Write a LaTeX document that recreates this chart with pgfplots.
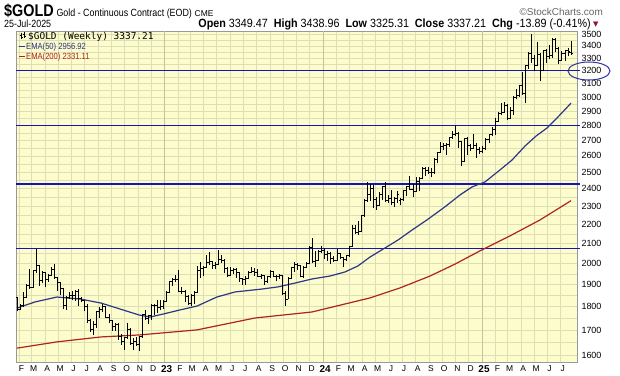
\documentclass[border=0pt]{standalone}
\usepackage{fontspec}
\setmainfont{Liberation Sans}
\newfontfamily\narrowfont[FakeStretch=0.85]{Liberation Sans}
\newfontfamily\infofont[FakeStretch=0.9]{Liberation Sans}
\newfontfamily\monofont{DejaVu Sans Mono}
\newfontfamily\symfont{DejaVu Sans}
\usepackage{pgfplots}
\usepackage{pgfplotstable}
\pgfplotsset{compat=1.18}

\definecolor{bg}{RGB}{252,252,204}
\definecolor{gridc}{RGB}{222,222,182}
\definecolor{yeargrid}{RGB}{195,195,160}
\definecolor{lvl}{RGB}{20,20,185}
\definecolor{emaA}{RGB}{45,55,135}
\definecolor{emaB}{RGB}{175,35,35}
\definecolor{ell}{RGB}{50,50,170}
\definecolor{tri}{RGB}{140,20,50}

\pgfdeclareplotmark{otick}{\pgfpathmoveto{\pgfqpoint{-1.7bp}{0bp}}\pgfpathlineto{\pgfqpoint{0bp}{0bp}}\pgfusepathqstroke}
\pgfdeclareplotmark{ctick}{\pgfpathmoveto{\pgfqpoint{0bp}{0bp}}\pgfpathlineto{\pgfqpoint{1.7bp}{0bp}}\pgfusepathqstroke}

\pgfplotstableread{
w o h l c
-6 1842 1845 1780 1786
-5 1786 1812 1784 1807
-4 1807 1865 1800 1842
-3 1842 1902 1838 1897
-2 1897 1972 1878 1888
-1 1888 1968 1884 1965
0 1966 2070 1955 1988
1 1988 1992 1893 1921
2 1921 1962 1908 1956
3 1956 1958 1889 1923
4 1923 1948 1914 1944
5 1944 1985 1940 1973
6 1973 1998 1928 1933
7 1933 1935 1872 1910
8 1910 1912 1850 1880
9 1880 1885 1788 1805
10 1805 1848 1786 1840
11 1840 1866 1835 1852
12 1852 1872 1828 1848
13 1848 1876 1826 1868
14 1868 1878 1805 1838
15 1838 1845 1820 1826
16 1826 1830 1780 1800
17 1800 1810 1730 1740
18 1740 1748 1692 1702
19 1702 1738 1678 1725
20 1725 1780 1710 1778
21 1778 1800 1752 1788
22 1788 1810 1778 1800
23 1800 1802 1750 1755
24 1755 1768 1730 1740
25 1740 1742 1696 1715
26 1715 1730 1698 1722
27 1722 1730 1660 1675
28 1675 1685 1640 1652
29 1652 1672 1620 1668
30 1668 1728 1664 1702
31 1702 1710 1640 1645
32 1645 1668 1618 1652
33 1652 1672 1636 1642
34 1642 1676 1615 1672
35 1672 1770 1668 1765
36 1765 1786 1742 1750
37 1750 1766 1726 1764
38 1764 1812 1742 1805
39 1805 1810 1764 1806
40 1806 1830 1772 1796
41 1796 1828 1786 1800
42 1800 1830 1792 1822
43 1822 1868 1822 1865
44 1865 1918 1860 1915
45 1915 1932 1893 1925
46 1925 1944 1912 1926
47 1926 1968 1866 1870
48 1870 1888 1855 1870
49 1870 1874 1822 1846
50 1846 1852 1806 1814
51 1814 1856 1802 1852
52 1852 1870 1810 1864
53 1864 1988 1862 1968
54 1968 2008 1930 1978
55 1978 1988 1942 1982
56 1982 2040 1978 2006
57 2006 2055 1992 2010
58 2010 2012 1975 1988
59 1988 2006 1972 1995
60 1995 2068 1992 2020
61 2020 2042 2002 2014
62 2014 2022 1952 1978
63 1978 1982 1935 1942
64 1942 1982 1938 1966
65 1966 1980 1948 1972
66 1972 1978 1932 1956
67 1956 1958 1912 1928
68 1928 1930 1898 1926
69 1926 1938 1900 1930
70 1930 1965 1924 1958
71 1958 1982 1952 1960
72 1960 1980 1940 1958
73 1958 1972 1935 1940
74 1940 1948 1928 1942
75 1942 1946 1900 1912
76 1912 1942 1905 1936
77 1936 1968 1932 1960
78 1960 1962 1935 1938
79 1938 1944 1918 1940
80 1940 1948 1928 1942
81 1942 1944 1850 1860
82 1860 1872 1805 1832
83 1832 1935 1832 1930
84 1930 1985 1925 1980
85 1980 2008 1960 1996
86 1996 2002 1968 1990
87 1990 1994 1935 1938
88 1938 1990 1932 1980
89 1980 2006 1978 2000
90 2000 2085 1996 2080
91 2080 2128 2000 2012
92 2012 2060 1985 2016
93 2016 2068 2014 2060
94 2060 2086 2054 2066
95 2066 2078 2024 2044
96 2044 2060 2012 2048
97 2048 2056 1998 2024
98 2024 2036 2008 2016
99 2016 2070 2014 2048
100 2048 2054 2020 2032
101 2032 2034 1984 2020
102 2020 2042 2010 2040
103 2040 2088 2030 2085
104 2085 2195 2082 2180
105 2180 2196 2148 2158
106 2158 2220 2146 2160
107 2160 2250 2158 2248
108 2248 2340 2240 2332
109 2332 2440 2325 2365
110 2365 2430 2330 2400
111 2400 2420 2290 2340
112 2340 2352 2280 2305
113 2305 2378 2300 2368
114 2368 2415 2335 2412
115 2412 2440 2322 2330
116 2330 2365 2320 2345
117 2345 2390 2305 2320
118 2320 2350 2298 2345
119 2345 2385 2315 2365
120 2335 2345 2305 2336
121 2336 2395 2328 2390
122 2390 2418 2358 2414
123 2414 2478 2392 2398
124 2398 2425 2352 2382
125 2382 2470 2378 2440
126 2440 2472 2385 2458
127 2458 2530 2455 2520
128 2520 2532 2478 2510
129 2510 2530 2490 2500
130 2500 2522 2470 2495
131 2495 2585 2490 2578
132 2578 2625 2555 2620
133 2620 2690 2618 2658
134 2658 2685 2635 2665
135 2665 2680 2605 2672
136 2672 2725 2658 2720
137 2720 2765 2712 2740
138 2740 2800 2728 2745
139 2745 2755 2650 2690
140 2690 2695 2535 2568
141 2568 2715 2565 2710
142 2710 2720 2605 2670
143 2670 2678 2630 2650
144 2650 2740 2645 2665
145 2665 2680 2585 2640
146 2640 2660 2610 2630
147 2630 2665 2618 2648
148 2648 2715 2640 2708
149 2708 2745 2685 2740
150 2740 2790 2728 2770
151 2770 2850 2735 2825
152 2825 2895 2825 2880
153 2880 2955 2870 2890
154 2890 2965 2888 2942
155 2942 2950 2835 2848
156 2848 2930 2842 2905
157 2905 3010 2875 2995
158 2995 3058 2985 3015
159 3015 3090 3005 3085
160 3085 3190 3015 3030
161 3030 3245 2955 3240
162 3240 3350 3215 3340
163 3340 3500 3260 3295
164 3295 3325 3200 3240
165 3240 3435 3235 3330
166 3330 3340 3120 3200
167 3200 3365 3195 3360
168 3360 3375 3265 3310
169 3310 3405 3290 3325
170 3325 3465 3300 3450
171 3450 3470 3350 3380
172 3380 3395 3255 3285
173 3285 3360 3280 3340
174 3340 3370 3280 3360
175 3360 3385 3315 3351.10
176 3349.47 3438.96 3325.31 3337.21
}\ohlc

\pgfplotstableread{
w v
-6.25 1794
-0.33 1821
6.9 1843
14.5 1834
21.4 1816
27.6 1790
33.9 1764
37.5 1755
41.8 1768
47.4 1786
53 1803
59.5 1843
65.5 1866
74.3 1879
79.6 1889
85.2 1907
90.8 1926
96.7 1940
101.6 1959
105.9 1988
109.9 2032
114.8 2077
119.1 2118
123.7 2170
128.6 2224
134.5 2296
139.5 2364
143.4 2410
147.7 2440
152.6 2512
156.6 2574
160.9 2664
164.5 2729
168.1 2783
171.7 2859
176 2957
}\emafifty

\pgfplotstableread{
w v
-6.25 1627
6.9 1652
21.4 1672
33.9 1680
53 1701
72 1751
90.8 1777
109.9 1839
119.7 1884
129.6 1940
137.8 1997
146 2062
155.9 2139
165.8 2224
176 2331
}\ematwohundred

\begin{document}
\begin{tikzpicture}
\useasboundingbox (0,0) rectangle (620bp,376bp);
\fill[white] (0,0) rectangle (620bp,376bp);
\begin{axis}[
  at={(16bp,14bp)}, anchor=south west,
  scale only axis, width=561bp, height=331bp,
  ymode=log, ymin=1573, ymax=3526,
  xmin=-6.58, xmax=177.96,
  clip=false,
  axis background/.style={fill=bg},
  axis line style={draw=black!40, line width=0.6bp},
  ytick={1600,1700,1800,1900,2000,2100,2200,2300,2400,2500,2600,2700,2800,2900,3000,3100,3200,3300,3400,3500},
  yticklabels={1600,1700,1800,1900,2000,2100,2200,2300,2400,2500,2600,2700,2800,2900,3000,3100,3200,3300,3400,3500},
  minor ytick={1650,1750,1850,1950,2050,2150,2250,2350,2450,2550,2650,2750,2850,2950,3050,3150,3250,3350,3450},
  yticklabel pos=right,
  yticklabel style={font=\fontsize{9}{10}\selectfont, anchor=west, xshift=1bp},
  xtick={-5.43,-1.43,3.0,7.29,11.71,16.0,20.43,24.86,29.14,33.57,37.86,46.71,50.71,55.14,59.43,63.86,68.14,72.57,77.0,81.29,85.71,90.0,98.86,103.0,107.43,111.71,116.14,120.43,124.86,129.29,133.57,138.0,142.29,151.14,155.14,159.57,163.86,168.29,172.57},
  xticklabels={F,M,A,M,J,J,A,S,O,N,D,F,M,A,M,J,J,A,S,O,N,D,F,M,A,M,J,J,A,S,O,N,D,F,M,A,M,J,J},
  xticklabel style={font=\fontsize{8.5}{9}\selectfont, xshift=2bp},
  extra x ticks={42.29,94.43,146.71},
  extra x tick labels={23,24,25},
  extra x tick style={major grid style={yeargrid, line width=0.6bp}, xticklabel style={font=\bfseries\fontsize{10}{11}\selectfont, xshift=0bp}},
  xmajorgrids, ymajorgrids, yminorgrids,
  major grid style={gridc, line width=0.6bp},
  minor grid style={gridc, line width=0.6bp},
  major tick length=0pt, minor tick length=0pt,
]
% horizontal level lines
\addplot[lvl, line width=1.4bp] coordinates {(-6.58,3200) (179,3200)};
\addplot[lvl, line width=1.4bp] coordinates {(-6.58,2800) (179,2800)};
\addplot[lvl, line width=1.4bp] coordinates {(-6.58,2428) (179,2428)};
\addplot[lvl, line width=1.4bp] coordinates {(-6.58,2075) (179,2075)};
% moving averages
\addplot[emaB, line width=1.2bp] table[x=w, y=v] {\ematwohundred};
\addplot[emaA, line width=1.2bp] table[x=w, y=v] {\emafifty};
% OHLC bars: high-low range
\addplot[draw=none, mark=none,
  error bars/.cd, y dir=plus, y explicit, error mark=none,
  error bar style={draw=black, solid, line width=0.9bp}]
  table[x=w, y=l, y error expr=\thisrow{h}-\thisrow{l}] {\ohlc};
\addplot[black, only marks, mark=otick, mark options={line width=0.9bp}] table[x=w, y=o] {\ohlc};
\addplot[black, only marks, mark=ctick, mark options={line width=0.9bp}] table[x=w, y=c] {\ohlc};
\end{axis}
% ellipse around 3200 label
\draw[ell, line width=1bp] (589bp,305bp) ellipse [x radius=21bp, y radius=9bp];
% header
\node[anchor=base west, inner sep=0] at (4bp,359bp) {{\narrowfont\bfseries\fontsize{17}{18}\selectfont \$GOLD}\ {\narrowfont\fontsize{10.5}{12}\selectfont Gold - Continuous Contract (EOD)}\ {\fontsize{8.5}{10}\selectfont CME}};
\node[anchor=base east, inner sep=0, text=black!60] at (603bp,360bp) {\fontsize{10}{11}\selectfont ©StockCharts.com};
\node[anchor=base west, inner sep=0] at (4bp,348bp) {\narrowfont\fontsize{10.5}{12}\selectfont 25-Jul-2025};
\node[anchor=base east, inner sep=0] at (591bp,348bp) {\infofont\fontsize{12}{13}\selectfont \textbf{Open} 3349.47\ \ \textbf{High} 3438.96\ \ \textbf{Low} 3325.31\ \ \textbf{Close} 3337.21\ \ \textbf{Chg} -13.89 (-0.41\%)};
\node[anchor=base west, inner sep=0, text=tri] at (593bp,349bp) {\symfont\fontsize{7}{8}\selectfont ▼};
% legend inside plot
\draw[black, line width=0.7bp] (21bp,343bp) -- (21bp,337bp) (19.5bp,341bp) -- (21bp,341bp) (21bp,339bp) -- (22.5bp,339bp);
\draw[black, line width=0.7bp] (24bp,344bp) -- (24bp,338bp) (22.5bp,342bp) -- (24bp,342bp) (24bp,340bp) -- (25.5bp,340bp);
\node[anchor=base west, inner sep=0] at (28bp,336bp) {\monofont\fontsize{9.5}{10}\selectfont \$GOLD (Weekly) 3337.21};
\draw[emaA, line width=1.4bp] (19bp,329.5bp) -- (25bp,329.5bp);
\node[anchor=base west, inner sep=0, text=emaA] at (26bp,326bp) {\narrowfont\fontsize{9}{10}\selectfont EMA(50) 2956.92};
\draw[emaB, line width=1.4bp] (19bp,319.5bp) -- (25bp,319.5bp);
\node[anchor=base west, inner sep=0, text=emaB] at (26bp,316bp) {\narrowfont\fontsize{9}{10}\selectfont EMA(200) 2331.11};
\end{tikzpicture}
\end{document}
